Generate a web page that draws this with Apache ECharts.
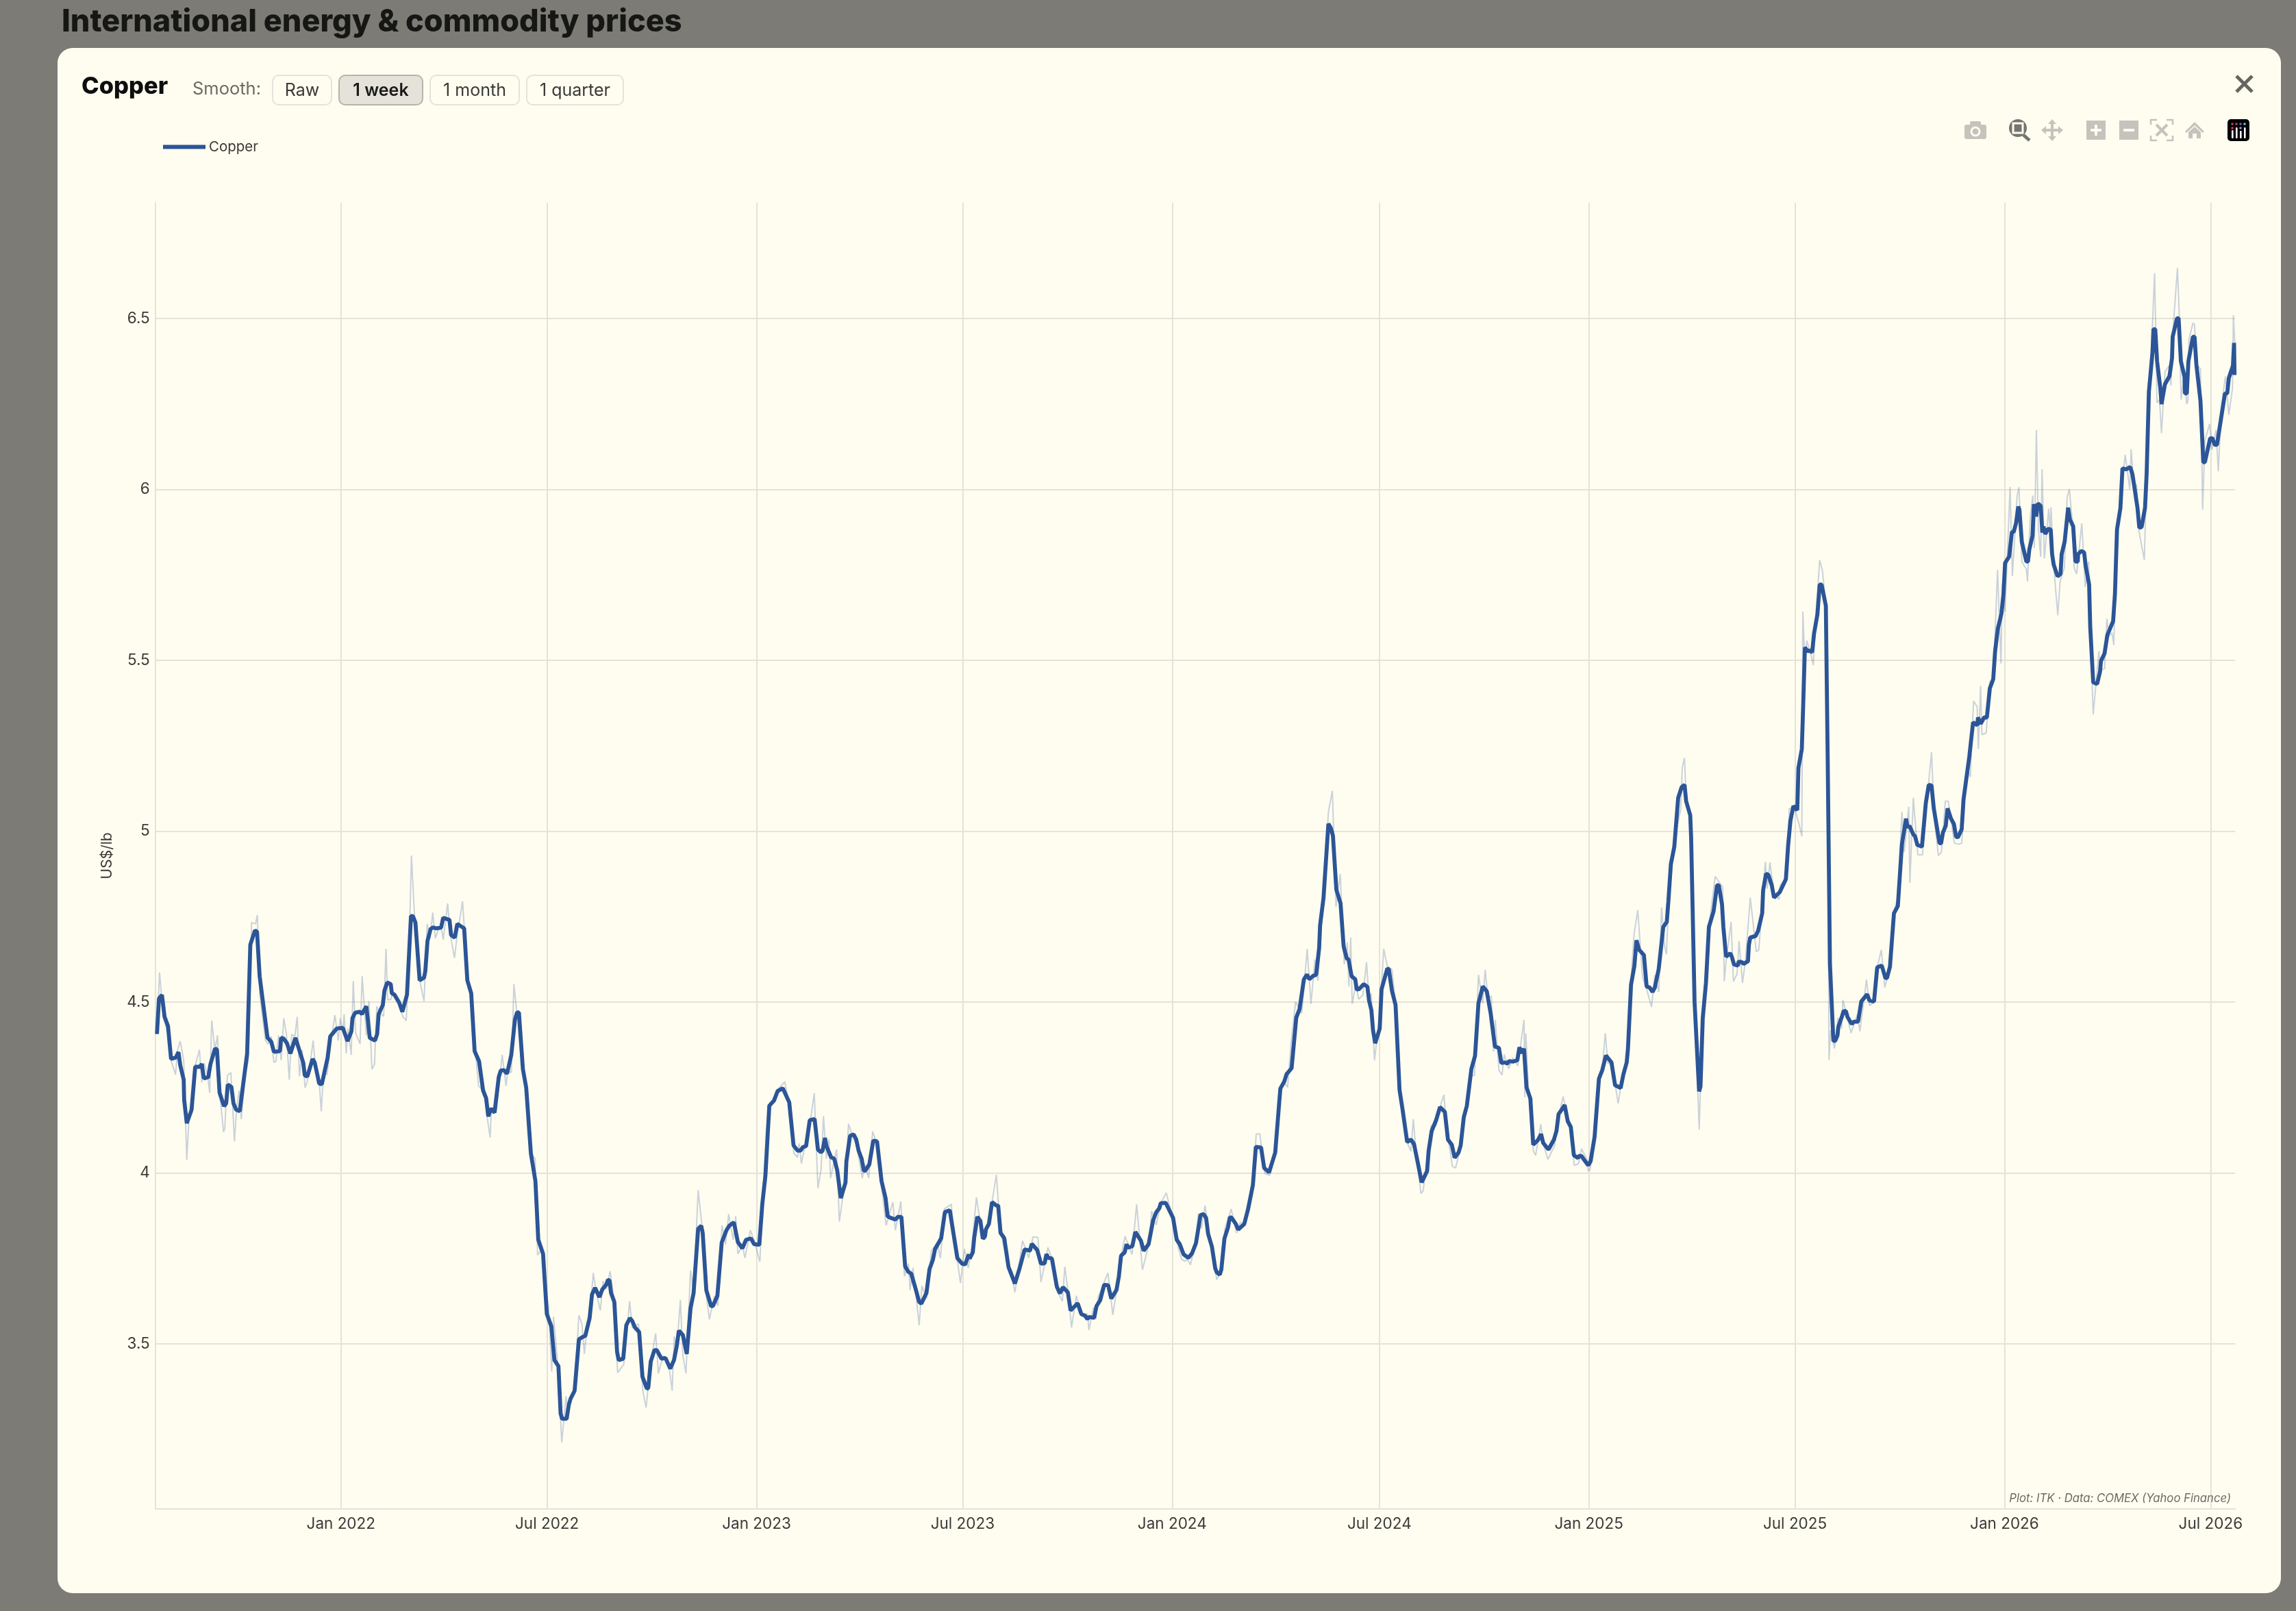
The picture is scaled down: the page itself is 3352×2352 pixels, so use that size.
<!DOCTYPE html>
<html><head><meta charset="utf-8"><title>Copper</title>
<style>html,body{margin:0;padding:0;background:#7c7b75}#c{width:3352px;height:2352px}</style>
<script src="https://cdn.jsdelivr.net/npm/echarts@6/dist/echarts.min.js"></script>
</head><body><div id="c"></div>
<script>
// Days counted from baseDate, price in US$/lb
const baseDate = '2022-01-01';
const seriesName = 'Copper';
const axisUnit = 'US$/lb';
const tickDates = ['2022-01-01','2022-07-01','2023-01-01','2023-07-01','2024-01-01','2024-07-01','2025-01-01','2025-07-01','2026-01-01','2026-07-01'];
const tickLabels = ['Jan 2022','Jul 2022','Jan 2023','Jul 2023','Jan 2024','Jul 2024','Jan 2025','Jul 2025','Jan 2026','Jul 2026'];
const priceTicks = [3.5,4,4.5,5,5.5,6,6.5];
const smoothButtons = ['Raw','1 week','1 month','1 quarter'];

const smoothA = [[-161.6,4.407],[-159.8,4.511],[-157.2,4.521],[-154.9,4.457],[-151.9,4.430],[-149.2,4.334],[-148,4.330],[-145,4.338],[-142.7,4.354],[-141.1,4.315],[-138.1,4.273],[-137.7,4.215],[-135.4,4.146],[-131.2,4.185],[-128,4.311],[-123.9,4.311],[-122.2,4.319],[-120.4,4.277],[-116.5,4.281],[-114.6,4.319],[-110.5,4.365],[-108.9,4.361],[-106.6,4.235],[-102.7,4.196],[-100.8,4.204],[-99.4,4.259],[-96.2,4.252],[-94.4,4.204],[-92.1,4.186],[-88.9,4.181],[-82.4,4.350],[-79.6,4.668],[-75.5,4.710],[-73.7,4.706],[-71.4,4.576],[-64.5,4.396],[-61.2,4.384],[-58.9,4.355],[-53.6,4.357],[-52.5,4.396],[-50.2,4.393],[-47.4,4.380],[-44.4,4.350],[-40,4.396],[-33.1,4.323],[-31.8,4.286],[-29.5,4.283],[-24.9,4.334],[-23,4.323],[-19.1,4.262],[-16.8,4.260],[-11.7,4.338],[-9.4,4.400],[-3.7,4.423],[1.6,4.425],[5.8,4.386],[9.2,4.415],[10.1,4.453],[12.4,4.469],[16.6,4.472],[18.4,4.465],[22.3,4.488],[25.3,4.396],[29.9,4.388],[31.8,4.407],[33.1,4.465],[36.8,4.492],[38.2,4.534],[40.7,4.558],[43.7,4.553],[44.7,4.526],[47,4.522],[51.1,4.499],[53.9,4.472],[58,4.522],[61.5,4.752],[63.1,4.752],[65.4,4.733],[69.1,4.564],[73,4.572],[74.1,4.591],[76,4.679],[78.7,4.714],[81,4.719],[83.3,4.716],[87.9,4.718],[89.8,4.747],[95.3,4.741],[96.7,4.697],[99.9,4.689],[102.2,4.729],[108.2,4.716],[111,4.564],[114.4,4.526],[117.4,4.357],[121.3,4.327],[124.8,4.242],[127.5,4.219],[129.4,4.166],[131.7,4.189],[134.9,4.177],[138.6,4.281],[140.4,4.300],[143.2,4.301],[145.9,4.291],[149.6,4.346],[152.8,4.449],[154.7,4.470],[156.3,4.470],[159.8,4.304],[162.7,4.250]];
const smoothB = [[166.8,4.058],[170.8,3.976],[173.3,3.805],[177.5,3.764],[180.8,3.588],[184.8,3.551],[187.5,3.453],[191,3.435],[192.9,3.297],[194.2,3.281],[198.2,3.281],[200.1,3.322],[201.7,3.340],[205.2,3.363],[209,3.514],[213,3.522],[214.6,3.524],[218.4,3.576],[220.5,3.645],[223.2,3.664],[227,3.637],[229.6,3.660],[233.1,3.674],[234.5,3.688],[235.8,3.686],[237.2,3.649],[240.1,3.623],[242.5,3.477],[243.9,3.453],[247.9,3.457],[250.6,3.555],[253.8,3.576],[255.9,3.567],[258.1,3.549],[261.9,3.535],[264.8,3.404],[268.6,3.370],[269.9,3.371],[272.1,3.449],[275.3,3.482],[277.4,3.482],[281.5,3.457],[285,3.459],[289.2,3.428],[292.5,3.453],[294.9,3.494],[296.8,3.539],[300.3,3.526],[303.7,3.471],[307,3.604],[309.7,3.649],[313.7,3.837],[316.4,3.846],[317.7,3.825],[320.9,3.657],[325.2,3.610],[326.8,3.612],[330.6,3.641],[334.4,3.797],[338.6,3.833],[341.3,3.847],[345.1,3.856],[348.6,3.798],[352.6,3.780],[355.8,3.805],[360.1,3.809],[362.8,3.792],[367.4,3.790],[370.1,3.911],[372.8,3.993],[376.2,4.197],[380.3,4.212],[383.5,4.240],[388.1,4.248],[393.7,4.207],[397.5,4.081],[401,4.066],[403.6,4.066],[405.8,4.076],[408.5,4.079],[411.7,4.155],[416,4.158],[418.9,4.069],[421.6,4.061],[423,4.066],[425.1,4.103],[426.4,4.079],[430.5,4.046],[433.2,4.042],[435.8,4.009],[439,3.927],[440.1,3.931],[443.1,3.972],[443.9,4.034],[447.1,4.109],[450.3,4.113],[452.5,4.099],[454.6,4.066],[457.3,4.042],[459.2,4.007],[460.5,4.007],[464,4.025],[467.5,4.095],[470.8,4.093],[474.8,3.976],[478.3,3.927],[480.1,3.874],[482,3.870],[486.9,3.864],[489,3.872],[492.2,3.872],[495.5,3.727],[498.4,3.711],[500.8,3.706],[504.3,3.666],[507.8,3.623],[509.7,3.618],[514.2,3.649],[516.9,3.719],[519.9,3.747],[521.8,3.778],[527.1,3.809],[530.4,3.886],[534.7,3.891],[541.4,3.751]];
const smoothC = [[545.5,3.735],[548.2,3.733],[551.4,3.762],[552.2,3.750],[554.9,3.768],[556.2,3.812],[558.9,3.872],[561.6,3.860],[563.7,3.808],[565.6,3.815],[566.4,3.835],[569.1,3.852],[571.8,3.915],[575.6,3.905],[577.2,3.905],[579.3,3.825],[582.5,3.810],[586.3,3.725],[591.9,3.677],[595.7,3.718],[600.5,3.777],[605.1,3.773],[606.7,3.793],[611.5,3.775],[614.8,3.735],[618,3.736],[619.6,3.763],[621.2,3.752],[624.4,3.750],[628.7,3.668],[631.4,3.648],[634.1,3.666],[638.4,3.651],[640.8,3.598],[647,3.619],[650.2,3.588],[653.4,3.583],[655.6,3.573],[656.9,3.579],[661.5,3.577],[663.6,3.611],[666.8,3.628],[670.3,3.673],[673.8,3.672],[676.5,3.633],[681.1,3.658],[683.2,3.698],[685.1,3.758],[688.3,3.768],[690,3.792],[691,3.782],[695,3.786],[697.7,3.828],[702.6,3.802],[705,3.773],[709.3,3.792],[713.3,3.862],[716,3.885],[718.7,3.897],[720,3.912],[724.3,3.913],[730.8,3.869],[734,3.805],[736.7,3.792],[740.1,3.762],[744.2,3.752],[747.4,3.765],[750.9,3.795],[754.9,3.877],[757.6,3.880],[759.8,3.869],[761.6,3.822],[764.9,3.785],[767.8,3.722],[769.1,3.710],[771.8,3.703],[773.2,3.718],[775.9,3.808],[779.1,3.842],[780.7,3.871],[782.3,3.869],[785.8,3.852],[788,3.835],[793.3,3.851],[796.5,3.892]];
const smoothD = [[800.9,3.965],[803.5,4.077],[808.1,4.075],[810.8,4.015],[815.1,4.002],[820.5,4.060],[825,4.247],[828.5,4.268],[830.4,4.289],[834.9,4.307],[839,4.455],[841.9,4.480],[845.7,4.567],[848.4,4.581],[850.5,4.567],[853.7,4.577],[856.4,4.580],[859.1,4.659],[859.9,4.725],[862.9,4.804],[867.2,5.022],[869.3,5.010],[871.2,4.987],[874.2,4.829],[877.9,4.789],[880.6,4.663],[883.3,4.628],[884.9,4.625],[887.6,4.576],[890.8,4.567],[892.1,4.537],[894,4.538],[898.3,4.553],[901.5,4.545],[902.9,4.505],[905,4.476],[906.4,4.418],[908.3,4.380],[912.3,4.423],[913.9,4.538],[919,4.599],[920.3,4.596],[923,4.534],[926.2,4.492],[929.7,4.243],[932.4,4.185],[936.4,4.091],[939.7,4.098],[942.4,4.085],[946.4,4.019],[949.1,3.973],[953.9,4.006],[955.2,4.064],[957.9,4.123],[961.9,4.156],[965.2,4.193],[969.5,4.179],[972.2,4.098],[975.6,4.083],[978.1,4.045],[981.5,4.060],[983.4,4.081],[986.1,4.163],[988.8,4.197],[992.8,4.305],[996,4.343],[999,4.497],[1002.8,4.546],[1006.3,4.532],[1009.7,4.468],[1013.5,4.370],[1017,4.366],[1019.1,4.322],[1022.4,4.324],[1024.5,4.320],[1025.9,4.328],[1029.1,4.326],[1033.1,4.330],[1035,4.368],[1037.1,4.351],[1039,4.364],[1041.2,4.251],[1044.6,4.218],[1047.1,4.083],[1051.1,4.096],[1054,4.114],[1055.9,4.088],[1060.5,4.069],[1065.3,4.098],[1067.5,4.123],[1069.4,4.173],[1072,4.185],[1074.7,4.199],[1077.4,4.152],[1080.1,4.135],[1082.8,4.052],[1086.3,4.044],[1087.3,4.050],[1089.5,4.050],[1091.6,4.040],[1095.4,4.023],[1097.5,4.035],[1101,4.106],[1104.8,4.276],[1107.7,4.301],[1111,4.344],[1115.8,4.324],[1119,4.257],[1123.9,4.249],[1126.3,4.289],[1129.2,4.324],[1130.3,4.364],[1133,4.551],[1135.9,4.605],[1137.8,4.681],[1140,4.654]];
const smoothE = [[1144.3,4.638],[1146.7,4.546],[1149.3,4.543],[1151.9,4.530],[1153.9,4.543],[1157.3,4.597],[1161.3,4.720],[1164.4,4.735],[1165.8,4.796],[1168,4.904],[1171,4.955],[1174.4,5.098],[1177.4,5.129],[1180,5.136],[1181.4,5.088],[1185,5.047],[1185.8,4.980],[1188.8,4.500],[1192.8,4.239],[1194,4.254],[1196,4.454],[1198.8,4.556],[1201.4,4.720],[1205.5,4.766],[1208.5,4.842],[1210.1,4.842],[1212.9,4.786],[1214.1,4.720],[1216.5,4.633],[1220.1,4.643],[1221.5,4.633],[1223.5,4.610],[1226.9,4.607],[1227.5,4.619],[1230.5,4.617],[1231.9,4.612],[1235.7,4.620],[1236.5,4.668],[1237.7,4.689],[1242.5,4.694],[1244.6,4.709],[1248.2,4.760],[1249,4.827],[1251.6,4.876],[1253.6,4.873],[1256.6,4.842],[1258.6,4.806],[1263.6,4.822],[1269,4.860],[1271,4.960],[1273,5.031],[1275.6,5.074],[1279,5.062],[1280,5.185],[1283,5.241],[1284.2,5.369],[1285.7,5.538],[1288.1,5.527],[1289.7,5.529],[1292.1,5.524],[1293.7,5.578],[1296.7,5.635],[1298.7,5.722],[1300.3,5.722],[1304.1,5.660],[1305.7,5.215],[1307.7,4.612],[1310.7,4.387],[1312.3,4.387],[1314.3,4.403],[1315.1,4.428],[1318.3,4.459],[1319.7,4.474],[1321.7,4.474],[1323.1,4.457],[1326.8,4.436],[1328.8,4.443],[1332.4,4.443],[1335.2,4.502],[1340.4,4.523],[1342.4,4.505],[1346.4,4.502],[1349.2,4.602],[1353.2,4.607],[1356.4,4.571],[1357.8,4.571],[1360.4,4.604],[1363.9,4.760],[1367.3,4.781],[1370.9,4.962],[1374.5,5.037],[1375.9,5.011],[1377.5,5.016],[1380.9,4.991],[1382.5,4.985],[1384.5,4.960],[1388.5,4.955],[1391.9,5.083],[1394.5,5.136],[1396.9,5.134],[1398.9,5.067],[1403.9,4.965],[1405.3,4.965],[1406.9,4.996],[1409.4,5.016],[1411,5.067],[1414,5.037],[1416.6,5.021],[1418.4,4.985],[1420,4.982],[1423.4,5.006],[1425,5.093],[1430,5.216]];
const smoothF = [[1433.4,5.319],[1437.1,5.310],[1437.7,5.333],[1440.1,5.315],[1443.1,5.333],[1445.5,5.333],[1448.1,5.418],[1451.1,5.445],[1452.7,5.525],[1455.1,5.592],[1458.3,5.637],[1460.1,5.695],[1461.5,5.785],[1465.1,5.804],[1467.5,5.876],[1469.1,5.876],[1471.1,5.901],[1473.1,5.950],[1474.1,5.941],[1476.2,5.847],[1480.2,5.789],[1481.6,5.789],[1482.8,5.825],[1485.6,5.865],[1486.8,5.957],[1488.8,5.921],[1490.2,5.959],[1492.8,5.952],[1494.2,5.874],[1495.2,5.892],[1496.8,5.870],[1499.2,5.885],[1501.6,5.883],[1502.8,5.811],[1504.2,5.780],[1507.6,5.746],[1510.2,5.753],[1511.2,5.811],[1513.8,5.847],[1516.9,5.947],[1518.3,5.914],[1521.3,5.892],[1523.3,5.789],[1525.3,5.789],[1525.7,5.811],[1528.3,5.820],[1530.9,5.816],[1532.3,5.776],[1535.3,5.722],[1536.3,5.597],[1538.9,5.436],[1542.3,5.431],[1544.9,5.467],[1545.7,5.498],[1548.9,5.521],[1551.3,5.574],[1556.4,5.615],[1558,5.695],[1559.8,5.883],[1562.8,5.946],[1564.6,6.062],[1567.8,6.059],[1571.4,6.066],[1573.4,6.044],[1577.8,5.946],[1579.4,5.888],[1581.4,5.890],[1584.4,5.946],[1585.8,6.044],[1587.8,6.286],[1591,6.402],[1591.8,6.469],[1593.4,6.469],[1595,6.375],[1597.9,6.295],[1598.9,6.250],[1601.9,6.308],[1605.9,6.332],[1608.1,6.384],[1608.7,6.447],[1612.5,6.501],[1613.9,6.501],[1615.9,6.375],[1619.1,6.330],[1619.5,6.281],[1621.1,6.281],[1622.5,6.375],[1626.5,6.447],[1627.9,6.447],[1629.5,6.366],[1633.1,6.259],[1635.6,6.080],[1637,6.080],[1641.6,6.150],[1643.6,6.150],[1645.6,6.131],[1647.6,6.131],[1654.6,6.281],[1656.6,6.281],[1658,6.326],[1661.6,6.362],[1662.6,6.429],[1663,6.335]];

const rawA = [[-161.6,4.415],[-159.3,4.587],[-156.1,4.461],[-151.5,4.399],[-149.2,4.330],[-145.3,4.288],[-143.4,4.361],[-141.1,4.386],[-138.1,4.330],[-135.4,4.039],[-133.5,4.154],[-131.2,4.189],[-128,4.315],[-124.3,4.361],[-122.2,4.265],[-120.4,4.323],[-117.4,4.292],[-115.3,4.235],[-113.5,4.446],[-110.7,4.361],[-108.4,4.403],[-106.6,4.238],[-103.1,4.120],[-102,4.131],[-99.7,4.286],[-96.7,4.294],[-93.5,4.093],[-91.6,4.192],[-89.3,4.242],[-87.5,4.158],[-84.3,4.284],[-81.3,4.330],[-78.5,4.733],[-75,4.729],[-73.4,4.755],[-71.4,4.526],[-66.3,4.388],[-64,4.377],[-61.2,4.400],[-58.9,4.324],[-57.1,4.327],[-54.8,4.403],[-52.5,4.330],[-50.2,4.453],[-47.9,4.407],[-45.4,4.273],[-43.3,4.406],[-40.5,4.400],[-38.4,4.457],[-36.4,4.283],[-34.1,4.361],[-31.5,4.250],[-29.5,4.269],[-27.6,4.307],[-24.4,4.388],[-22.6,4.319],[-19.1,4.269],[-17.3,4.181],[-15.2,4.296],[-12.2,4.288],[-7.6,4.415],[-5.3,4.462],[-2.3,4.388],[-0.7,4.453],[1.6,4.415],[2.8,4.465],[4.6,4.350],[6.2,4.423],[9,4.346],[10.8,4.562],[12.9,4.409],[16.8,4.378],[18.6,4.576],[22.3,4.403],[24.6,4.503],[27.2,4.304],[29.5,4.319],[31.5,4.488],[33.8,4.469],[37.5,4.459],[39.6,4.656],[41,4.507],[43.7,4.508],[46,4.530],[51.1,4.492],[54.5,4.457],[57.3,4.446],[59.2,4.576],[61.9,4.929],[64.5,4.760],[69.1,4.564],[73,4.503],[75.7,4.729],[78.3,4.687],[80.6,4.762],[82.9,4.687],[85.6,4.714],[87.9,4.722],[89.8,4.683],[93.7,4.789],[96,4.699],[99.7,4.630],[102.2,4.699],[106.8,4.795],[108.7,4.699],[110.5,4.568],[114.4,4.522],[117.9,4.361],[120.9,4.255],[125.9,4.238],[128.7,4.158],[131,4.104],[132.1,4.185],[136.3,4.185],[141.6,4.346],[145,4.255],[146.6,4.300],[149.6,4.294],[151.9,4.553],[154.7,4.461],[159.3,4.307],[162.7,4.238]];
const rawB = [[166.8,4.058],[170.6,4.042],[172.7,3.760],[176.7,3.780],[178.6,3.690],[182.4,3.608],[185.1,3.420],[186.7,3.580],[190.4,3.441],[193.9,3.212],[197.7,3.347],[199.6,3.302],[202.3,3.347],[204.9,3.363],[209,3.584],[211.6,3.559],[213.8,3.471],[215.7,3.535],[218.4,3.576],[221.6,3.708],[224.3,3.649],[227.8,3.598],[230.2,3.684],[233.1,3.661],[236.4,3.713],[239.8,3.633],[243,3.416],[248.4,3.441],[253.5,3.625],[255.9,3.547],[261.3,3.559],[265.1,3.363],[268,3.314],[272.1,3.449],[276.4,3.531],[278.8,3.414],[282.8,3.465],[287.6,3.449],[290.9,3.363],[292.7,3.522],[294.9,3.486],[298.1,3.629],[300.3,3.465],[303,3.414],[307,3.715],[309.7,3.649],[313.7,3.950],[317.2,3.841],[320.9,3.641],[323.6,3.572],[327.9,3.641],[331.1,3.612],[334.6,3.847],[337.8,3.792],[340.5,3.880],[344.5,3.805],[346.7,3.874],[348.6,3.764],[352.6,3.788],[354.8,3.752],[359.6,3.833],[363.4,3.797],[367.9,3.741],[370.1,3.903],[373.6,4.124],[376.8,4.206],[380.8,4.218],[384.8,4.250],[389.7,4.267],[393.4,4.210],[397.7,4.058],[401,4.046],[402.4,4.087],[404.4,4.028],[407.7,4.083],[410.3,4.107],[415.7,4.234],[418.9,3.956],[421.6,4.009],[423.8,4.166],[426.4,4.042],[428.6,4.099],[430,3.985],[435.3,4.069],[437.7,3.858],[443.1,3.985],[445.8,4.144],[449.8,4.103],[452.8,4.083],[457.9,3.985],[460,4.026],[463.5,3.986],[467,4.122],[470.8,4.083],[474.8,3.960],[478.8,3.847],[484.7,3.915],[486.9,3.833],[491.7,3.917],[494.9,3.698],[498.4,3.735],[499.8,3.657],[502.4,3.723],[507.8,3.555],[510.2,3.670],[514.2,3.633],[518.5,3.772],[523.6,3.796],[526.5,3.751],[529.8,3.895],[536,3.909],[539.2,3.797]];
const rawC = [[544.1,3.678],[547.6,3.778],[550.9,3.722],[554.1,3.785],[558.1,3.929],[562.1,3.845],[565.6,3.805],[569.1,3.858],[575.6,3.995],[579,3.838],[584.4,3.748],[589,3.705],[591.9,3.651],[598.6,3.802],[604,3.752],[607.8,3.813],[612.1,3.812],[614.8,3.681],[620.9,3.782],[624.7,3.748],[628.7,3.658],[633.6,3.625],[635.7,3.726],[638.9,3.645],[641.6,3.548],[645.9,3.641],[650.2,3.583],[655.6,3.588],[656.9,3.541],[661,3.608],[662.8,3.571],[665,3.638],[673.6,3.708],[677.9,3.585],[681.9,3.671],[685.1,3.758],[688.6,3.815],[694.8,3.762],[698.8,3.909],[703.9,3.717],[709.3,3.788],[712,3.889],[716,3.848],[720,3.912],[724.8,3.942],[730.8,3.865],[734,3.798],[738.3,3.748],[741,3.742],[743.4,3.748],[746.1,3.732],[750.9,3.802],[753,3.882],[755.7,3.838],[758.9,3.905],[762.4,3.825],[765.1,3.785],[769.1,3.688],[772.4,3.708],[776.4,3.838],[781.8,3.895],[786.6,3.825],[789.8,3.855],[793.3,3.852],[797.9,3.899],[801.1,3.972],[803.8,4.114],[807,4.115],[811.3,3.999],[815.6,3.993],[820.7,4.059],[824.7,4.249],[827.4,4.269],[831.4,4.251]];
const rawD = [[834.4,4.380],[838.4,4.501],[843.8,4.467],[848.6,4.656],[851.9,4.495],[855.4,4.625],[858,4.563],[861.3,4.729],[863.9,4.854],[867.2,5.057],[870.7,5.118],[873.9,4.779],[877.6,4.875],[881.1,4.611],[883.8,4.675],[885.2,4.546],[886.8,4.689],[888.1,4.495],[891.3,4.551],[893.8,4.509],[897.5,4.521],[900.7,4.617],[902.9,4.505],[904.8,4.526],[907.7,4.330],[912.3,4.463],[915.8,4.656],[919,4.605],[923,4.596],[926.2,4.497],[929.7,4.247],[932.4,4.189],[936.4,4.089],[939.7,4.064],[941.8,4.158],[944,4.069],[948.5,3.940],[950.4,3.948],[954.2,4.048],[957.4,4.139],[961.9,4.139],[966,4.202],[968.7,4.229],[970,4.172],[972.7,4.094],[976.2,4.019],[978.9,4.015],[983.4,4.077],[986.1,4.164],[989.6,4.202],[992.3,4.289],[995.5,4.285],[999,4.580],[1002.8,4.497],[1004.9,4.595],[1007.1,4.517],[1010.3,4.517],[1012.2,4.355],[1013.8,4.448],[1017,4.301],[1019.7,4.287],[1021.6,4.347],[1025.6,4.305],[1029.1,4.337],[1033.6,4.314],[1039,4.448],[1039.8,4.222],[1040.6,4.409],[1043,4.239],[1047.3,4.064],[1049.2,4.052],[1053.8,4.143],[1055.9,4.085],[1060,4.040],[1065.9,4.081],[1068,4.148],[1073.4,4.224],[1076.1,4.181],[1080.1,4.131],[1083.1,4.023],[1086.8,4.027],[1089.5,4.071],[1094.3,4.040],[1095.4,4.006],[1097,4.010],[1101,4.106],[1104.8,4.276],[1107.7,4.305],[1110.4,4.409],[1112.6,4.322],[1116.3,4.318],[1121.7,4.204],[1125.7,4.289],[1129.8,4.326],[1133.8,4.609],[1135.7,4.700],[1138.9,4.769],[1143.2,4.571],[1146.4,4.542],[1151,4.486],[1153.9,4.580],[1157.4,4.530],[1159.8,4.777],[1162.5,4.663],[1164.1,4.640],[1167.4,4.904],[1172,4.990],[1176.7,5.066],[1178,5.186],[1179.9,5.215],[1181.6,5.087],[1185.3,5.049],[1186.9,4.729],[1188.8,4.497],[1192.9,4.127],[1195.5,4.447]];
const rawE = [[1201.4,4.720],[1206.9,4.868],[1213.5,4.837],[1214.9,4.561],[1216.9,4.633],[1220.9,4.735],[1222.9,4.561],[1226.1,4.582],[1227.9,4.679],[1230.9,4.556],[1233.5,4.622],[1237.7,4.806],[1243,4.648],[1245.2,4.653],[1251,4.911],[1252.6,4.832],[1255,4.909],[1258.6,4.817],[1263,4.801],[1264,4.842],[1269.6,4.863],[1272,5.067],[1276.6,5.067],[1280.6,5.021],[1283,4.985],[1283.9,5.643],[1285.7,5.492],[1287.3,5.558],[1290.7,5.522],[1293.1,5.486],[1294.7,5.599],[1298.7,5.793],[1301.1,5.763],[1304.1,5.660],[1305.7,5.215],[1306.9,4.331],[1308.3,4.418],[1311.7,4.365],[1314.7,4.454],[1318,4.423],[1319.1,4.507],[1322.3,4.464],[1326.2,4.410],[1331.8,4.464],[1334,4.415],[1339.8,4.566],[1342.4,4.490],[1346.4,4.500],[1349.2,4.602],[1352.8,4.653],[1355.8,4.543],[1359.8,4.592],[1363.9,4.766],[1367.3,4.806],[1370.9,5.057],[1372.9,4.939],[1376.9,5.072],[1377.9,4.849],[1380.9,5.098],[1384.9,4.931],[1388.9,4.931],[1392.9,5.093],[1396.9,5.231],[1399.3,5.042],[1402.9,4.929],[1405.6,4.939],[1409,5.088],[1411.6,5.088],[1417,4.965],[1421,4.962],[1423.4,4.965],[1428,5.185],[1431,5.159],[1433.8,5.381],[1437,5.364],[1438,5.241],[1440,5.425]];
const rawF = [[1441.1,5.283],[1444.9,5.288],[1448.1,5.437],[1451.1,5.445],[1454.9,5.765],[1457.9,5.491],[1459.1,5.726],[1461.5,5.642],[1465.9,6.008],[1467.9,5.747],[1472.1,5.982],[1473.7,6.007],[1476.2,5.789],[1480.2,5.767],[1481.2,5.731],[1483.6,5.919],[1485.8,5.982],[1487.2,5.829],[1489,6.174],[1490.8,5.883],[1492.8,5.803],[1494,6.060],[1496,5.798],[1499.8,5.944],[1501.2,5.865],[1501.8,5.948],[1504.2,5.776],[1507.8,5.632],[1509.8,5.731],[1513.6,5.771],[1516,5.977],[1517.9,6.001],[1521.3,5.883],[1522.1,5.771],[1524.3,5.753],[1528.9,5.901],[1531.9,5.715],[1534.9,5.789],[1536.3,5.597],[1538.9,5.342],[1543.9,5.527],[1545.3,5.471],[1548.9,5.476],[1550.9,5.622],[1552.9,5.570],[1555.4,5.581],[1557,5.545],[1559.8,5.883],[1562.8,5.955],[1564.4,6.026],[1567,6.102],[1571,6.001],[1572.2,6.118],[1575.4,5.973],[1577,6.016],[1579,5.879],[1583.8,5.794],[1585.8,6.044],[1587.8,6.286],[1591,6.483],[1592.8,6.633],[1593.9,6.456],[1594.9,6.254],[1597.1,6.263],[1598.9,6.165],[1601.9,6.344],[1605.5,6.362],[1607.1,6.304],[1609.5,6.492],[1612.9,6.648],[1614.5,6.510],[1616.1,6.263],[1619.1,6.348],[1620.9,6.250],[1622.1,6.259],[1622.9,6.438],[1626.5,6.487],[1627.9,6.483],[1629.5,6.366],[1633.1,6.353],[1635,5.941],[1637,6.143],[1641.2,6.192],[1643.2,6.116],[1646.8,6.174],[1648.8,6.053],[1651.2,6.232],[1655,6.331],[1658,6.219],[1661.2,6.295],[1662,6.510],[1663.6,6.411]];

const DAY = 86400000;
const t0 = Date.parse(baseDate);
const smoothed = [...smoothA,...smoothB,...smoothC,...smoothD,...smoothE,...smoothF];
const raw = [...rawA,...rawB,...rawC,...rawD,...rawE,...rawF];
const tickDays = tickDates.map(d => (Date.parse(d)-t0)/DAY);

const FONT = 'Inter, "Noto Sans", sans-serif';
const INK = '#3a3a37', GRID = '#e5e3d9', ICON = '#c4c3bc';

function txt(x,y,text,size,color,weight,align,style){
  return {type:'text',z:20,x:x,y:y,style:{text:text,fontFamily:FONT,fontSize:size,fontWeight:weight||400,fontStyle:style||'normal',fill:color,textAlign:align||'left',textVerticalAlign:'middle'}};
}
function rect(x,y,w,h,r,fill,stroke,lw,z){
  return {type:'rect',z:z===undefined?20:z,shape:{x:x,y:y,width:w,height:h,r:r},style:{fill:fill,stroke:stroke||null,lineWidth:lw||0}};
}
function seg(x1,y1,x2,y2,c,w){
  return {type:'line',z:21,shape:{x1:x1,y1:y1,x2:x2,y2:y2},style:{stroke:c,lineWidth:w,lineCap:'butt'}};
}
function poly(points,fill){ return {type:'polygon',z:21,shape:{points:points},style:{fill:fill}}; }
function circ(cx,cy,r,fill,stroke,lw){ return {type:'circle',z:21,shape:{cx:cx,cy:cy,r:r},style:{fill:fill,stroke:stroke||null,lineWidth:lw||0}}; }

const btnBoxes = [[398,86],[495,122],[628,130],[769,141]];
const buttons = [];
smoothButtons.forEach((b,i)=>{
  const on = i===1, box = btnBoxes[i];
  buttons.push(rect(box[0],110,box[1],43,9,on?'#e4e2d9':'#fffdf0',on?'#b6b4aa':'#e5e3d9',2));
  buttons.push(txt(box[0]+box[1]/2,132,b,25,on?'#1a1a1a':'#3a3a37',on?600:400,'center'));
});

const icons = [
  // camera
  rect(2868,182,32,21,3,ICON), rect(2876,177,16,8,2,ICON), circ(2884,192,6,ICON,'#fffdf0',3),
  // zoom box (active)
  circ(2946,187,13,'#757570'), rect(2939,180,14,14,0,'#757570','#fffdf0',3,22), seg(2954,197,2963,205,'#757570',5),
  // pan
  seg(2984,190,3008,190,ICON,4), seg(2996,178,2996,202,ICON,4),
  poly([[2980,190],[2987,184],[2987,196]],ICON), poly([[3012,190],[3005,184],[3005,196]],ICON),
  poly([[2996,174],[2990,181],[3002,181]],ICON), poly([[2996,206],[2990,199],[3002,199]],ICON),
  // zoom in
  rect(3046,176,28,28,0,ICON), seg(3052,190,3068,190,'#fffdf0',4), seg(3060,182,3060,198,'#fffdf0',4),
  // zoom out
  rect(3094,176,28,28,0,ICON), seg(3100,190,3116,190,'#fffdf0',4),
  // autoscale
  seg(3140,174,3140,182,ICON,2.5), seg(3140,175,3149,175,ICON,2.5), seg(3172,174,3172,182,ICON,2.5), seg(3163,175,3172,175,ICON,2.5),
  seg(3140,198,3140,206,ICON,2.5), seg(3140,205,3149,205,ICON,2.5), seg(3172,198,3172,206,ICON,2.5), seg(3163,205,3172,205,ICON,2.5),
  seg(3148,182,3164,198,ICON,4), seg(3164,182,3148,198,ICON,4),
  // home
  poly([[3190,192],[3204,178],[3218,192],[3216,194],[3204,183],[3192,194]],ICON), poly([[3195,193],[3204,185],[3213,193],[3213,202],[3207,202],[3207,195],[3201,195],[3201,202],[3195,202]],ICON),
  // logo
  rect(3252,174,32,32,5,'#000000'),
  circ(3259,181,1.8,'#e8325a'), circ(3265,181,1.8,'#a8458f'), circ(3271,181,1.8,'#7c5fc0'), circ(3277,181,1.8,'#65c8e0'),
  circ(3259,187,1.8,'#e8325a'), circ(3271,187,1.8,'#a88fd0'),
  rect(3258,190,2.6,12,1,'#ffffff',null,0,22), rect(3264,186,2.6,16,1,'#ffffff',null,0,22), rect(3270,191,2.6,11,1,'#ffffff',null,0,22), rect(3276,186,2.6,16,1,'#ffffff',null,0,22),
  // close
  seg(3265,111,3288,134,'#666660',5), seg(3288,111,3265,134,'#666660',5)
];

const chart = echarts.init(document.getElementById('c'), null, {renderer:'canvas', width:3352, height:2352});
chart.setOption({
  animation:false,
  backgroundColor:'#7c7b75',
  textStyle:{fontFamily:FONT},
  legend:{data:[{name:seriesName,icon:'rect'}],left:233,top:199,itemWidth:62,itemHeight:6,itemGap:8,
    textStyle:{fontFamily:FONT,fontSize:20.5,color:INK}},
  grid:{left:226.8,right:88.6,top:296,bottom:149.3,containLabel:false},
  xAxis:{type:'value',min:-163,max:1663.7,
    axisLine:{show:true,onZero:false,lineStyle:{color:GRID,width:2}},
    axisTick:{show:false,customValues:tickDays},
    splitLine:{show:true,customValues:tickDays,lineStyle:{color:GRID,width:2}},
    axisLabel:{customValues:tickDays,hideOverlap:false,margin:11,fontFamily:FONT,fontSize:22.5,color:INK,
      formatter:v=>tickLabels[tickDays.indexOf(v)]}},
  yAxis:{type:'value',min:3.018,max:6.839,name:axisUnit,nameLocation:'middle',nameGap:60,nameRotate:90,
    nameTextStyle:{fontFamily:FONT,fontSize:21,color:INK},
    axisLine:{show:true,onZero:false,lineStyle:{color:GRID,width:2}},
    axisTick:{show:false,customValues:priceTicks},
    splitLine:{show:true,customValues:priceTicks,lineStyle:{color:GRID,width:2}},
    axisLabel:{customValues:priceTicks,margin:8,fontFamily:FONT,fontSize:22.5,color:INK,formatter:v=>String(v)}},
  series:[
    {name:seriesName+' (raw)',type:'line',data:raw,symbol:'none',silent:true,z:2,
      lineStyle:{color:'#2b5597',width:2,opacity:0.25}},
    {name:seriesName,type:'line',data:smoothed,symbol:'none',z:3,itemStyle:{color:'#2b5597'},
      lineStyle:{color:'#2b5597',width:5.8}}
  ],
  graphic:{elements:[
    rect(84,70,3246,2256,22,'#fffdf0',null,0,-5),
    txt(90,32,'International energy & commodity prices',45,'#161614',800),
    txt(119,127,seriesName,34.5,'#0e0e0e',800),
    txt(281,130,'Smooth:',25.5,'#6b6b66',400),
    ...buttons,
    ...icons,
    txt(3257,2188,'Plot: ITK · Data: COMEX (Yahoo Finance)',16.7,'#6b6b65',400,'right','italic')
  ]}
});
</script></body></html>
